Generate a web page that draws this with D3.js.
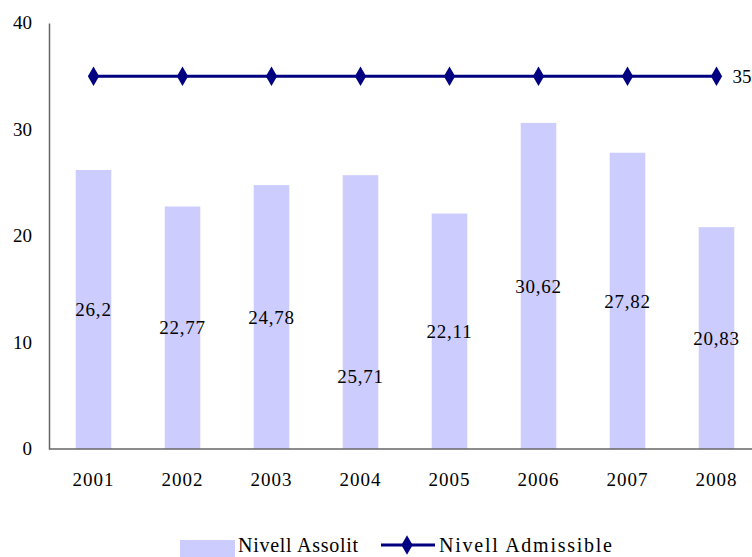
<!DOCTYPE html>
<html>
<head>
<meta charset="utf-8">
<script src="https://cdn.jsdelivr.net/npm/d3@7"></script>
<style>
  html, body { margin: 0; padding: 0; background: #fff; overflow: hidden; }
  svg text { font-family: "Liberation Serif", "DejaVu Serif", serif; fill: #000; }
</style>
</head>
<body>
<svg id="chart" width="752" height="557"></svg>
<script>
const years = ["2001", "2002", "2003", "2004", "2005", "2006", "2007", "2008"];
const assolit = [26.2, 22.77, 24.78, 25.71, 22.11, 30.62, 27.82, 20.83];
const admissible = [35, 35, 35, 35, 35, 35, 35, 35];
const yTicks = [0, 10, 20, 30, 40];
const seriesNames = ["Nivell Assolit", "Nivell Admissible"];

(function () {
const fmt = v => String(v).replace(".", ",");

const svg = d3.select("#chart");
const mLeft = 49, mRight = 761, mTop = 23, mBottom = 449;

const x = d3.scaleBand().domain(years).range([mLeft, mRight]).paddingInner(0.6).paddingOuter(0.3);
const y = d3.scaleLinear().domain([0, 40]).range([mBottom, mTop]);

// bars
svg.selectAll("rect.bar").data(assolit).join("rect")
  .attr("class", "bar")
  .attr("x", (d, i) => x(years[i]))
  .attr("width", x.bandwidth())
  .attr("y", d => y(d))
  .attr("height", d => y(0) - y(d))
  .attr("fill", "#CCCCFF");

// axes
const yAxis = d3.axisLeft(y).tickValues(yTicks).tickSize(0).tickPadding(17);
const gy = svg.append("g").attr("transform", `translate(${mLeft},0)`).call(yAxis);
gy.select(".domain").attr("stroke", "#666").attr("stroke-width", 1.5);
gy.selectAll("text").attr("font-size", 19).attr("font-family", "Liberation Serif").attr("dy", "0.3em");

const xAxis = d3.axisBottom(x).tickSize(0).tickPadding(24);
const gx = svg.append("g").attr("transform", `translate(0,${mBottom})`).call(xAxis);
gx.select(".domain").attr("stroke", "#666").attr("stroke-width", 1.5).attr("d", `M${mLeft},0H752`);
gx.selectAll("text").attr("font-size", 19).attr("font-family", "Liberation Serif").attr("letter-spacing", "1px");

// bar labels (centered within bar; 2004 label moved lower in original)
const labelShift = { "2004": -6.05 };
svg.selectAll("text.blabel").data(assolit).join("text")
  .attr("class", "blabel")
  .attr("x", (d, i) => x(years[i]) + x.bandwidth() / 2)
  .attr("y", (d, i) => y(d / 2 + (labelShift[years[i]] || 0)))
  .attr("dy", "0.35em")
  .attr("text-anchor", "middle")
  .attr("font-size", 19)
  .attr("letter-spacing", "0.8px")
  .text(d => fmt(d));

// line
const cx = (i) => x(years[i]) + x.bandwidth() / 2;
const line = d3.line().x((d, i) => cx(i)).y(d => y(d));
svg.append("path").datum(admissible)
  .attr("d", line).attr("fill", "none").attr("stroke", "#000080").attr("stroke-width", 3);
const diamond = d3.symbol().type(d3.symbolDiamond).size(110);
svg.selectAll("path.mk").data(admissible).join("path")
  .attr("class", "mk")
  .attr("d", diamond)
  .attr("transform", (d, i) => `translate(${cx(i)},${y(d)})`)
  .attr("fill", "#000080");
svg.append("text")
  .attr("x", cx(admissible.length - 1) + 16)
  .attr("y", y(admissible[admissible.length - 1]))
  .attr("dy", "0.35em")
  .attr("font-size", 19)
  .text(fmt(admissible[admissible.length - 1]));

// legend
const lg = svg.append("g");
lg.append("rect").attr("x", 180).attr("y", 540).attr("width", 55).attr("height", 20).attr("fill", "#CCCCFF");
lg.append("text").attr("x", 238).attr("y", 552).attr("font-size", 20)
  .attr("textLength", 120).attr("lengthAdjust", "spacing").text(seriesNames[0]);
lg.append("line").attr("x1", 381).attr("x2", 435).attr("y1", 545).attr("y2", 545)
  .attr("stroke", "#000080").attr("stroke-width", 3);
lg.append("path").attr("d", diamond).attr("transform", "translate(407,545)").attr("fill", "#000080");
lg.append("text").attr("x", 439).attr("y", 552).attr("font-size", 20)
  .attr("textLength", 173).attr("lengthAdjust", "spacing").text(seriesNames[1]);
})();
</script>
</body>
</html>
